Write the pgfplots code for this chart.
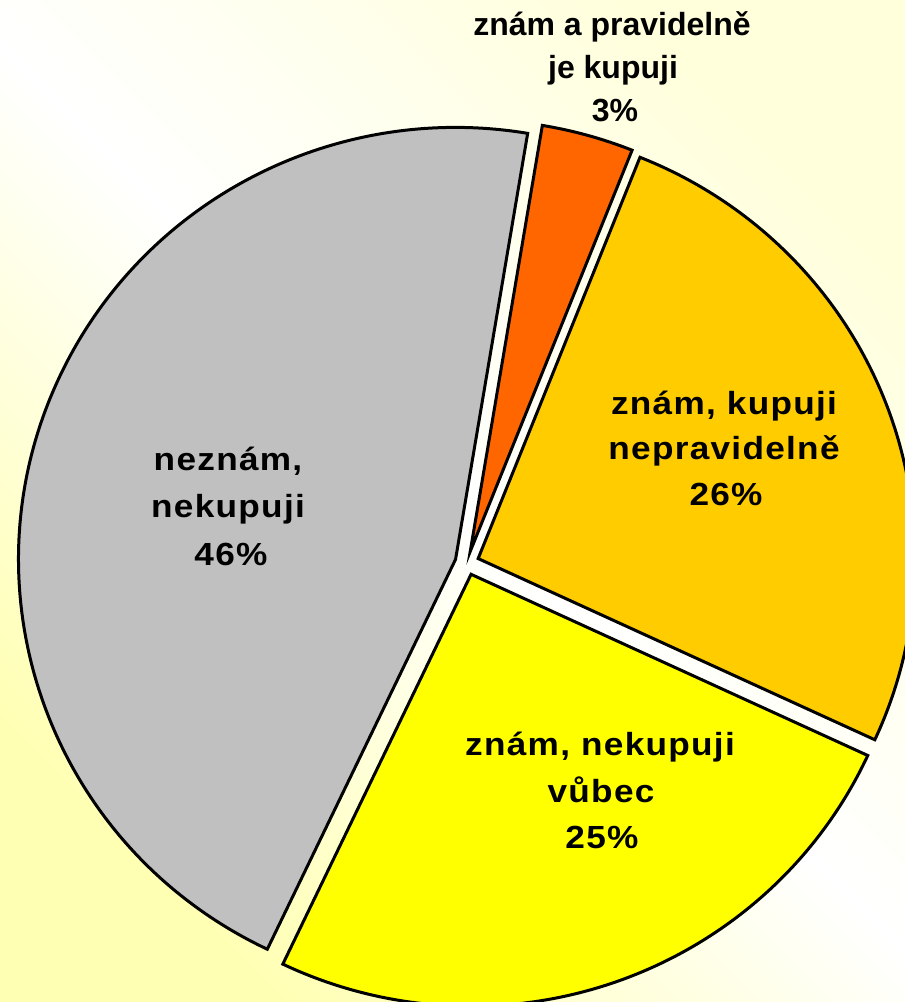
\documentclass[border=0pt]{standalone}
\usepackage{fontspec}
\setmainfont{Liberation Sans}
\usepackage{pgfplots}
\pgfplotsset{compat=1.18}
\usepackage{pgfplotstable}
\definecolor{cOrange}{HTML}{FF6600}
\definecolor{cGold}{HTML}{FFCC00}
\definecolor{cYellow}{HTML}{FFFF00}
\definecolor{cGray}{HTML}{C0C0C0}
\definecolor{bgBL}{HTML}{FFFFB4}
\definecolor{bgTR}{HTML}{FFFFDC}

% shares in percent, clockwise from the first slice
\pgfplotstableread{
label value
orange 3.4
gold 25.85
yellow 25.2
gray 45.55
}\piedata

\begin{document}
\begin{tikzpicture}
\useasboundingbox (0,0) rectangle (452.5pt,501pt);
\clip (0,0) rectangle (452.5pt,501pt);
\shade[top color=bgTR, bottom color=bgBL, middle color=white, shading angle=-45] (0,0) rectangle (452.5pt,501pt);
% angles (degrees clockwise from 12 o'clock)
\pgfplotstablegetelem{0}{value}\of\piedata \pgfmathsetmacro\vA{\pgfplotsretval}
\pgfplotstablegetelem{1}{value}\of\piedata \pgfmathsetmacro\vB{\pgfplotsretval}
\pgfplotstablegetelem{2}{value}\of\piedata \pgfmathsetmacro\vC{\pgfplotsretval}
\pgfplotstablegetelem{3}{value}\of\piedata \pgfmathsetmacro\vD{\pgfplotsretval}
\pgfmathsetmacro\aA{9.5}
\pgfmathsetmacro\aB{\aA+3.6*\vA}
\pgfmathsetmacro\aC{\aB+3.6*\vB}
\pgfmathsetmacro\aD{\aC+3.6*\vC}
\pgfmathsetmacro\aE{\aD+3.6*\vD}
\pgfmathsetmacro\mA{90-(\aA+\aB)/2}
\pgfmathsetmacro\mB{90-(\aB+\aC)/2}
\pgfmathsetmacro\mC{90-(\aC+\aD)/2}
\pgfmathsetmacro\mD{90-(\aD+\aE)/2}
\pgfmathsetmacro\sA{90-\aA}
\pgfmathsetmacro\sB{90-\aB}
\pgfmathsetmacro\sC{90-\aC}
\pgfmathsetmacro\sD{90-\aD}
\pgfmathsetmacro\sE{90-\aE}
\def\rx{218.5pt}
\def\ry{216pt}
\begin{axis}[at={(0,0)}, anchor=south west, scale only axis,
  width=452.5pt, height=501pt, xmin=0, xmax=905, ymin=0, ymax=1002,
  y dir=reverse, hide axis, clip=false]
\tikzset{slice/.style={draw=black, line width=1.5pt, line join=miter}}
\filldraw[slice, fill=cOrange] ([shift={(\mA:6pt)}]axis cs:467,563) -- ++({\rx*cos(\sA)},{\ry*sin(\sA)}) arc[start angle=\sA, end angle=\sB, x radius=\rx, y radius=\ry] -- cycle;
\filldraw[slice, fill=cGold] ([shift={(\mB:6pt)}]axis cs:467,563) -- ++({\rx*cos(\sB)},{\ry*sin(\sB)}) arc[start angle=\sB, end angle=\sC, x radius=\rx, y radius=\ry] -- cycle;
\filldraw[slice, fill=cYellow] ([shift={(\mC:6pt)}]axis cs:467,563) -- ++({\rx*cos(\sC)},{\ry*sin(\sC)}) arc[start angle=\sC, end angle=\sD, x radius=\rx, y radius=\ry] -- cycle;
\filldraw[slice, fill=cGray] ([shift={(\mD:6pt)}]axis cs:467,563) -- ++({\rx*cos(\sD)},{\ry*sin(\sD)}) arc[start angle=\sD, end angle=\sE, x radius=\rx, y radius=\ry] -- cycle;
\tikzset{lab/.style={anchor=base, inner sep=0pt, font=\bfseries\fontsize{16}{19}\selectfont},
  labw/.style={lab, font=\bfseries\fontsize{16}{19}\selectfont\addfontfeature{FakeStretch=1.1,LetterSpace=4}}}
\node[lab] at (axis cs:612,35) {znám a pravidelně};
\node[lab] at (axis cs:613,78) {je kupuji};
\node[lab] at (axis cs:615,121) {3\%};
\node[labw] at (axis cs:724,414) {znám, kupuji};
\node[labw] at (axis cs:724,459) {nepravidelně};
\node[labw] at (axis cs:726,505) {26\%};
\node[labw] at (axis cs:228,470) {neznám,};
\node[labw] at (axis cs:228,517) {nekupuji};
\node[labw] at (axis cs:231,565) {46\%};
\node[labw] at (axis cs:600,755) {znám, nekupuji};
\node[labw] at (axis cs:601,802) {vůbec};
\node[labw] at (axis cs:602,848) {25\%};
\end{axis}
\end{tikzpicture}
\end{document}
